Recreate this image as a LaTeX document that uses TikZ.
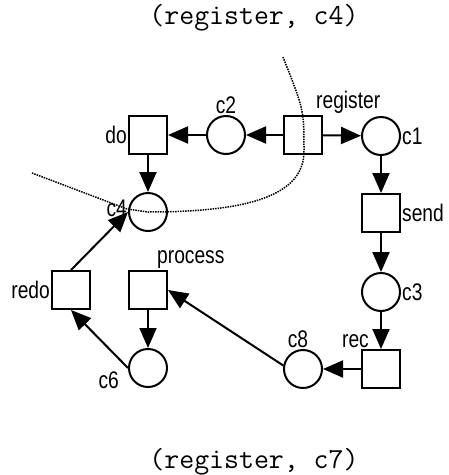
\documentclass[tikz,border=0pt]{standalone}
\usepackage{fontspec}
\setmainfont{Liberation Sans}[FakeStretch=0.8]
\usetikzlibrary{arrows.meta}

\tikzset{
  plc/.style={draw,circle,minimum size=38pt,inner sep=0pt,line width=2pt},
  trn/.style={draw,rectangle,minimum size=38pt,inner sep=0pt,line width=2pt},
  arc/.style={-{Triangle[length=20pt,width=17pt]},line width=2pt},
  cut/.style={densely dotted,line width=1.5pt},
  every label/.style={inner sep=1pt},
}

\begin{document}
\begin{tikzpicture}[x=1pt,y=-1pt,font=\fontsize{24}{28}\selectfont]
\useasboundingbox (0,0) rectangle (449,475);
\node (top) at (254,18) {\ttfamily\fontsize{29}{34}\selectfont (register, c4)};
\node (bot) at (254,462) {\ttfamily\fontsize{29}{34}\selectfont (register, c7)};

\node (do) [trn,label distance=4pt,label=left:do] at (148,135) {};
\node (c2) [plc,label distance=1pt,label=above:c2] at (226,135) {};
\node (reg) [trn,label distance=1pt,label={[anchor=south west,xshift=-8pt]north east:register}] at (303,135) {};
\node (c1) [plc,label distance=1pt,label=right:c1] at (381,136) {};
\node (send) [trn,label distance=4pt,label=right:send] at (381,213) {};
\node (c3) [plc,label distance=8pt,label=right:c3] at (381,292) {};
\node (rec) [trn,label distance=0pt,label={[anchor=south east,xshift=9pt]north west:rec}] at (381,369) {};
\node (c8) [plc,label distance=2pt,label={[xshift=-5pt]above:c8}] at (303,369) {};
\node (proc) [trn,label={[anchor=south west,xshift=8pt]north:process}] at (148,290) {};
\node (c6) [plc,label={[anchor=east,xshift=-8pt,yshift=-12pt]west:c6}] at (148,368) {};
\node (redo) [trn,label distance=6pt,label=left:redo] at (71,290) {};
\node (c4) [plc,label={[yshift=4pt]left:c4}] at (148,212) {};

\draw [arc] (reg) -- (c1);
\draw [arc] (reg) -- (c2);
\draw [arc] (c2) -- (do);
\draw [arc] (do) -- (c4);
\draw [arc] (c1) -- (send);
\draw [arc] (send) -- (c3);
\draw [arc] (c3) -- (rec);
\draw [arc] (rec) -- (c8);
\draw [arc] (c8.170) -- (proc.east);
\draw [arc] (proc) -- (c6);
\draw [arc] (c6.west) -- (redo.south);
\draw [arc] (redo.north) -- (c4.west);

% cut through the net
\draw [cut] (32,173) -- (127,209) -- (c4.center) .. controls (250,212) and (305,195) .. (304,150) .. controls (304,110) .. (283,57);
\end{tikzpicture}
\end{document}
